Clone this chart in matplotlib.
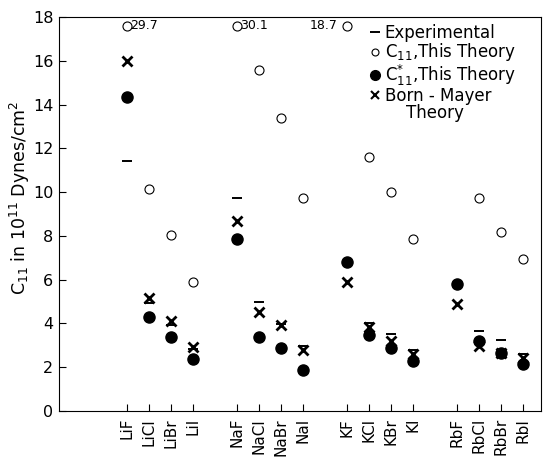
import numpy as np
import matplotlib.pyplot as plt
from matplotlib.lines import Line2D

compounds = ['LiF', 'LiCl', 'LiBr', 'LiI', 'NaF', 'NaCl', 'NaBr', 'NaI',
             'KF', 'KCl', 'KBr', 'KI', 'RbF', 'RbCl', 'RbBr', 'RbI']
group = [0, 0, 0, 0, 1, 1, 1, 1, 2, 2, 2, 2, 3, 3, 3, 3]

# C11 in 10^11 dynes/cm^2
experimental = [11.44, 4.95, 3.94, 2.85, 9.72, 4.97, 3.97, 2.98,
                6.70, 4.02, 3.53, 2.80, 5.78, 3.64, 3.24, 2.61]
c11_theory = [29.7, 10.14, 8.03, 5.90, 30.1, 15.56, 13.39, 9.71,
              18.7, 11.59, 10.0, 7.84, np.nan, 9.71, 8.18, 6.96]
c11_star = [14.33, 4.30, 3.38, 2.39, 7.84, 3.38, 2.86, 1.88,
            6.80, 3.49, 2.90, 2.29, 5.78, 3.22, 2.63, 2.16]
born_mayer = [15.98, 5.14, 4.10, 2.92, 8.68, 4.53, 3.91, 2.80,
              5.90, 3.84, 3.21, 2.60, 4.89, 2.95, 2.65, 2.42]

ymax = 18
offscale_y = 17.6

x = np.arange(len(compounds)) + np.array(group)
c11_arr = np.array(c11_theory)
c11_plot = np.where(c11_arr > ymax, offscale_y, c11_arr)

fig = plt.figure(figsize=(5.44, 4.57), dpi=100)
ax = fig.add_axes([0.1085, 0.1007, 0.886, 0.862])

ax.plot(x, c11_plot, 'o', ms=6.5, mfc='white', mec='black', mew=0.8, ls='none')
ax.plot(x, c11_star, 'o', ms=8, color='black', ls='none')
ax.plot(x, born_mayer, 'x', ms=6.5, mew=2, color='black', ls='none')
ax.plot(x, experimental, '_', ms=7, mew=1.4, color='black', ls='none', zorder=4)

# values that are off the top of the scale
for xi, v in zip(x, c11_arr):
    if v > ymax:
        if xi < 9:
            ax.text(xi + 0.15, offscale_y, f'{v:.1f}', fontsize=9, va='center', ha='left')
        else:
            ax.text(xi - 0.45, offscale_y, f'{v:.1f}', fontsize=9, va='center', ha='right')

ax.set_xlim(-3.09, 18.82)
ax.set_ylim(0, ymax)
ax.set_yticks(range(0, 19, 2))
ax.set_xticks(x)
ax.set_xticklabels(compounds, rotation=90, fontsize=11)
ax.tick_params(axis='y', direction='in', length=5, labelsize=11.5, pad=4)
ax.tick_params(axis='x', direction='in', length=5, pad=5)
ax.set_ylabel(r'C$_{11}$ in 10$^{11}$ Dynes/cm$^2$', fontsize=12.5)
ax.yaxis.set_label_coords(-0.056, 0.54)

handles = [
    Line2D([], [], marker='_', ms=7, mew=1.4, color='black', ls='none'),
    Line2D([], [], marker='o', ms=5, mfc='white', mec='black', mew=0.8, ls='none'),
    Line2D([], [], marker='o', ms=7, color='black', ls='none'),
    Line2D([], [], marker='x', ms=6, mew=1.5, color='black', ls='none'),
    Line2D([], [], ls='none'),
]
labels = ['Experimental', r'C$_{11}$,This Theory', r'C$_{11}^{*}$,This Theory',
          'Born - Mayer', '    Theory']
ax.legend(handles, labels, loc='upper left', bbox_to_anchor=(0.627, 1.003),
          frameon=False, fontsize=12, handlelength=0.6, handletextpad=0.3,
          labelspacing=-0.05, borderaxespad=0.1)

fig.savefig('out.png', dpi=100)
